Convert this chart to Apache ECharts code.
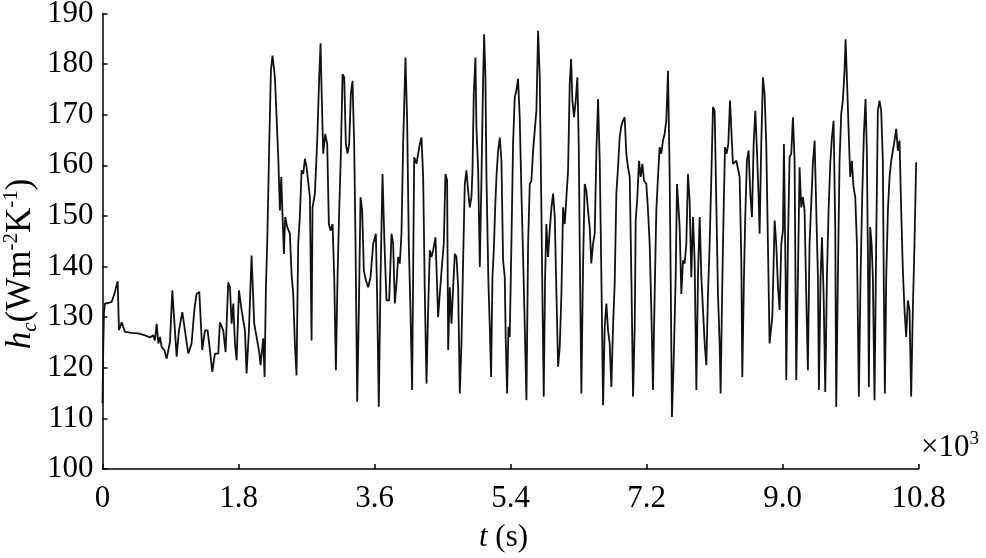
<!DOCTYPE html>
<html>
<head>
<meta charset="utf-8">
<title>hc vs t</title>
<script src="https://cdn.jsdelivr.net/npm/echarts@6/dist/echarts.min.js"></script>
<style>
  html, body { margin: 0; padding: 0; background: #fff; }
  #chart { width: 986px; height: 558px; }
</style>
</head>
<body>
<div id="chart"></div>
<script>
// time in units of 10^3 s
const timeK = [
  0, 0.01, 0.02, 0.033, 0.077, 0.121, 0.157, 0.201, 0.218, 0.254,
  0.298, 0.386, 0.474, 0.562, 0.628, 0.672, 0.694, 0.717, 0.739, 0.761,
  0.783, 0.818, 0.849, 0.893, 0.924, 0.950, 0.981, 1.012, 1.056, 1.091,
  1.135, 1.179, 1.215, 1.245, 1.281, 1.320, 1.356, 1.391, 1.422, 1.453,
  1.488, 1.532, 1.554, 1.598, 1.629, 1.664, 1.687, 1.709, 1.731, 1.753,
  1.775, 1.806, 1.841, 1.885, 1.907, 1.938, 1.973, 2.008, 2.039, 2.074,
  2.092, 2.127, 2.145,
  2.163, 2.180, 2.207, 2.229, 2.250, 2.282, 2.304, 2.326, 2.348, 2.366,
  2.383, 2.401, 2.418, 2.445, 2.480, 2.502, 2.524, 2.546, 2.568, 2.590,
  2.612, 2.635, 2.657, 2.679, 2.701, 2.745, 2.767, 2.780, 2.811, 2.842,
  2.868, 2.886, 2.899, 2.921, 2.948, 2.974, 2.996, 3.018, 3.045, 3.067,
  3.089, 3.111, 3.133, 3.155, 3.177, 3.199, 3.221, 3.243, 3.265, 3.287,
  3.309, 3.331, 3.349, 3.371, 3.393, 3.415, 3.437, 3.459, 3.486, 3.516,
  3.547, 3.583, 3.618, 3.635, 3.657, 3.680, 3.706, 3.732, 3.759, 3.794,
  3.825, 3.847, 3.869, 3.891, 3.913, 3.935, 3.957, 3.979, 4.010, 4.032,
  4.054, 4.076, 4.098, 4.125, 4.156, 4.178, 4.200, 4.222, 4.244, 4.266,
  4.288, 4.310, 4.332, 4.354, 4.376, 4.407, 4.442,
  4.464, 4.495, 4.517, 4.539, 4.561, 4.575, 4.597, 4.619, 4.641, 4.663,
  4.685, 4.707, 4.729, 4.751, 4.773, 4.795, 4.817, 4.839, 4.861, 4.883,
  4.897, 4.914, 4.936, 4.949, 4.972, 4.994, 5.016, 5.038, 5.051, 5.068,
  5.082, 5.108, 5.126, 5.143, 5.161, 5.179, 5.196, 5.214, 5.236, 5.258,
  5.280, 5.302, 5.324, 5.337, 5.355, 5.373, 5.390, 5.412, 5.434, 5.456,
  5.478, 5.500, 5.522, 5.545, 5.567, 5.589, 5.611, 5.633, 5.655, 5.677,
  5.699, 5.721, 5.743, 5.765, 5.787, 5.809, 5.822, 5.840, 5.858, 5.875,
  5.897, 5.919, 5.942, 5.964, 5.986, 6.008, 6.030, 6.052, 6.074, 6.096,
  6.118, 6.140, 6.162, 6.184, 6.202, 6.219, 6.241, 6.263, 6.285, 6.303,
  6.316, 6.338, 6.360, 6.382, 6.404, 6.426, 6.448, 6.470, 6.492, 6.515,
  6.537, 6.559, 6.581,
  6.603, 6.625, 6.647, 6.669, 6.691, 6.713, 6.735, 6.757, 6.779, 6.801,
  6.823, 6.845, 6.867, 6.889, 6.911, 6.933, 6.955, 6.978, 7.000, 7.022,
  7.044, 7.057, 7.079, 7.101, 7.123, 7.145, 7.167, 7.198, 7.220, 7.242,
  7.264, 7.286, 7.308, 7.330, 7.352, 7.374, 7.396, 7.418, 7.440, 7.462,
  7.485, 7.507, 7.520, 7.537, 7.560, 7.586, 7.604, 7.626, 7.639, 7.661,
  7.683, 7.705, 7.727, 7.749, 7.771, 7.793, 7.815, 7.837, 7.860, 7.882,
  7.904, 7.926, 7.948, 7.970, 7.992, 8.014, 8.036, 8.058, 8.080, 8.102,
  8.124, 8.146, 8.168, 8.181, 8.203, 8.221, 8.239, 8.261, 8.283, 8.305,
  8.322, 8.344, 8.367, 8.389, 8.411, 8.433, 8.455, 8.468, 8.490, 8.507,
  8.529, 8.551, 8.574, 8.596, 8.618, 8.640, 8.662, 8.684, 8.697, 8.719,
  8.741, 8.763, 8.785, 8.807, 8.829,
  8.865, 8.896, 8.917, 8.940, 8.962, 8.984, 9.006, 9.019, 9.041, 9.050,
  9.072, 9.094, 9.116, 9.138, 9.160, 9.182, 9.204, 9.226, 9.248, 9.270,
  9.292, 9.314, 9.336, 9.358, 9.380, 9.402, 9.425, 9.447, 9.469, 9.482,
  9.504, 9.522, 9.544, 9.566, 9.588, 9.610, 9.632, 9.654, 9.676, 9.698,
  9.711, 9.733, 9.755, 9.777, 9.799, 9.821, 9.835, 9.852, 9.874, 9.896,
  9.918, 9.940, 9.963, 9.985, 10.011, 10.033, 10.055, 10.077, 10.099, 10.117,
  10.135, 10.143, 10.161, 10.179, 10.196, 10.218, 10.240, 10.262, 10.284, 10.306,
  10.328, 10.342, 10.355, 10.373, 10.395, 10.417, 10.439, 10.461, 10.483, 10.505,
  10.527, 10.549, 10.571, 10.593, 10.615, 10.637, 10.659, 10.681, 10.703, 10.725,
  10.747, 10.769
];

// convective heat transfer coefficient hc (W m-2 K-1)
const hcValues = [
  113.0, 124.0, 131.0, 132.7, 132.8, 133.0, 134.6, 137.1, 127.4, 129.0,
  127.1, 126.9, 126.8, 126.4, 126.0, 126.4, 125.4, 128.7, 124.8, 126.1,
  124.1, 123.5, 121.8, 125.1, 135.3, 135.3, 122.2, 127.4, 131.0, 127.4,
  122.8, 124.8, 131.4, 134.6, 135.0, 123.5, 127.4, 127.4, 123.5, 119.2,
  122.8, 122.8, 129.0, 127.4, 123.1, 136.9, 135.9, 128.7, 132.7, 124.8,
  121.5, 135.3, 131.4, 127.4, 118.9, 127.4, 142.2, 128.7, 126.1, 123.1,
  120.5, 125.8, 118.2,
  135.9, 144.5, 164.2, 178.7, 181.7, 177.4, 169.5, 161.6, 151.1, 157.7,
  149.8, 142.5, 149.8, 147.8, 146.5, 138.6, 134.6, 124.8, 118.5, 144.5,
  149.8, 159.0, 158.3, 161.3, 159.6, 153.7, 125.4, 151.7, 154.4, 164.9,
  177.4, 184.1, 175.4, 162.3, 166.2, 164.2, 148.4, 147.1, 148.4, 137.9,
  119.5, 137.9, 151.1, 162.3, 178.0, 177.4, 164.2, 162.3, 164.2, 174.1,
  176.7, 164.2, 144.5, 113.3, 131.4, 153.7, 151.1, 139.2, 137.3, 135.9,
  137.9, 144.5, 146.5, 134.0, 112.3, 137.9, 158.3, 144.5, 133.3, 133.3,
  146.5, 144.5, 132.7, 136.6, 141.9, 140.6, 146.5, 164.2, 181.3, 168.8,
  144.5, 131.4, 115.6, 161.6, 160.3, 162.3, 164.2, 165.5, 157.7, 134.6,
  116.9, 131.4, 143.2, 141.9, 143.2, 145.8, 130.0,
  134.6, 140.6, 144.5, 158.3, 157.0, 123.5, 135.9, 128.7, 135.9, 142.5,
  141.9, 135.9, 114.9, 124.8, 141.2, 156.3, 159.0, 155.0, 151.7, 153.7,
  159.0, 174.1, 181.3, 167.5, 159.0, 139.9, 157.7, 177.4, 185.9, 177.4,
  157.7, 136.6, 128.1, 118.2, 137.9, 143.2, 151.1, 157.7, 162.9, 165.5,
  160.9, 141.2, 137.9, 125.4, 114.9, 128.1, 126.1, 144.5, 164.2, 173.4,
  174.8, 177.1, 169.5, 154.4, 141.9, 128.1, 113.6, 144.5, 156.3, 157.0,
  162.9, 166.9, 170.8, 186.6, 177.4, 151.1, 134.6, 114.3, 137.9, 148.4,
  141.9, 147.1, 151.7, 154.4, 149.8, 134.6, 120.2, 124.1, 134.6, 151.7,
  148.4, 153.7, 159.0, 176.1, 181.0, 172.8, 169.5, 172.8, 177.4, 164.2,
  144.5, 114.9, 139.9, 156.3, 155.0, 151.1, 147.8, 140.6, 144.5, 146.5,
  162.9, 173.1, 160.9,
  137.9, 112.6, 128.1, 132.7, 127.4, 124.8, 116.2, 128.1, 136.6, 154.4,
  159.6, 165.5, 167.8, 168.8, 169.5, 162.3, 159.6, 157.7, 137.9, 114.3,
  128.1, 149.1, 153.7, 160.9, 157.7, 160.3, 157.0, 156.3, 151.1, 144.5,
  131.4, 115.6, 134.6, 151.1, 157.7, 163.6, 162.3, 164.9, 166.2, 168.8,
  178.7, 157.7, 137.9, 110.3, 121.5, 137.9, 156.3, 156.3, 147.8, 134.6,
  141.2, 140.6, 144.5, 158.3, 153.0, 137.9, 149.8, 141.2, 115.6, 138.6,
  149.8, 137.9, 131.4, 124.8, 120.5, 134.6, 144.5, 157.7, 171.5, 170.8,
  152.4, 134.6, 124.8, 114.9, 136.6, 151.1, 163.6, 162.3, 164.2, 172.8,
  173.1, 160.3, 160.3, 160.9, 160.9, 157.7, 141.2, 118.2, 137.9, 149.8,
  160.9, 162.9, 154.4, 149.8, 164.2, 170.8, 162.9, 153.7, 146.5, 164.2,
  177.4, 174.1, 164.2, 144.5, 124.8,
  130.0, 149.1, 144.5, 135.9, 131.4, 144.5, 147.1, 164.2, 137.9, 117.6,
  144.5, 161.6, 162.3, 169.5, 160.9, 117.6, 137.9, 159.6, 151.7, 153.7,
  151.1, 134.6, 119.5, 144.5, 152.4, 160.3, 164.9, 151.1, 137.9, 115.6,
  137.9, 145.8, 134.6, 115.2, 137.9, 151.1, 160.3, 165.5, 168.8, 147.8,
  112.3, 137.9, 160.9, 170.1, 172.8, 178.7, 184.9, 177.4, 167.5, 157.7,
  160.9, 155.7, 153.7, 144.5, 114.3, 137.9, 153.7, 166.2, 173.1, 162.3,
  134.6, 116.2, 147.8, 144.5, 137.9, 113.6, 144.5, 170.8, 172.8, 170.8,
  160.9, 134.6, 114.9, 137.9, 151.1, 157.7, 160.9, 162.9, 164.9, 167.2,
  162.9, 164.9, 151.1, 139.2, 131.4, 126.1, 133.3, 131.4, 114.3, 131.4,
  144.5, 160.6
];

// x tick labels (units of 10^3 s)
const xTickValues = [0, 1.8, 3.6, 5.4, 7.2, 9.0, 10.8];
const xTickLabels = ['0', '1.8', '3.6', '5.4', '7.2', '9.0', '10.8'];

const serif = 'Liberation Serif';
const axisColor = '#000';

const myChart = echarts.init(document.getElementById('chart'));

const option = {
  backgroundColor: '#fff',
  animation: false,
  grid: {
    left: 102.5,
    right: 67.5,
    top: 13.5,
    bottom: 89,
    outerBoundsMode: 'none'
  },
  xAxis: {
    type: 'value',
    min: 0,
    max: 10.8,
    interval: 1.8,
    name: '{it|t} (s)',
    nameLocation: 'middle',
    nameGap: 53,
    nameTextStyle: {
      fontFamily: serif,
      fontSize: 31,
      color: axisColor,
      padding: [0, 14, 0, 0],
      rich: {
        it: { fontFamily: serif, fontSize: 31, fontStyle: 'italic', color: axisColor }
      }
    },
    axisLine: { lineStyle: { color: axisColor, width: 1.5 } },
    axisTick: { inside: true, length: 5, lineStyle: { color: axisColor, width: 1.5 } },
    axisLabel: {
      margin: 14,
      fontFamily: serif,
      fontSize: 31,
      color: axisColor,
      showMinLabel: true,
      showMaxLabel: true,
      formatter: function (v) {
        const i = xTickValues.findIndex(function (t) { return Math.abs(t - v) < 1e-6; });
        return i >= 0 ? xTickLabels[i] : '';
      }
    },
    splitLine: { show: false }
  },
  yAxis: {
    type: 'value',
    min: 100,
    max: 190,
    interval: 10,
    axisLine: { show: true, lineStyle: { color: axisColor, width: 1.5 } },
    axisTick: { show: true, inside: true, length: 5, lineStyle: { color: axisColor, width: 1.5 } },
    axisLabel: {
      margin: 9,
      fontFamily: serif,
      fontSize: 31,
      color: axisColor
    },
    splitLine: { show: false }
  },
  graphic: [
    {
      // y axis title, rotated
      type: 'text',
      x: 21,
      y: 264,
      rotation: Math.PI / 2,
      style: {
        text: '{h|h}{sub|c}{n|(Wm}{sup|-2}{n|K}{sup|-1}{n|)}',
        align: 'center',
        verticalAlign: 'middle',
        fill: axisColor,
        rich: {
          h: { fontFamily: serif, fontSize: 35, fontStyle: 'italic', lineHeight: 40, fill: axisColor },
          n: { fontFamily: serif, fontSize: 35, lineHeight: 40, fill: axisColor },
          sub: { fontFamily: serif, fontSize: 21, fontStyle: 'italic', lineHeight: 21, verticalAlign: 'bottom', fill: axisColor },
          sup: { fontFamily: serif, fontSize: 21, lineHeight: 21, verticalAlign: 'top', fill: axisColor }
        }
      }
    },
    {
      // scale factor of the time axis
      type: 'text',
      x: 921,
      y: 448,
      style: {
        text: '{n|\u00d710}{sup|3}',
        align: 'left',
        verticalAlign: 'middle',
        fill: axisColor,
        rich: {
          n: { fontFamily: serif, fontSize: 31, lineHeight: 36, fill: axisColor },
          sup: { fontFamily: serif, fontSize: 19, lineHeight: 19, verticalAlign: 'top', fill: axisColor }
        }
      }
    }
  ],
  series: [
    {
      type: 'line',
      data: timeK.map(function (t, i) { return [t, hcValues[i]]; }),
      showSymbol: false,
      symbol: 'none',
      lineStyle: { color: '#111', width: 1.8 },
      z: 3
    }
  ]
};

myChart.setOption(option);
</script>
</body>
</html>
